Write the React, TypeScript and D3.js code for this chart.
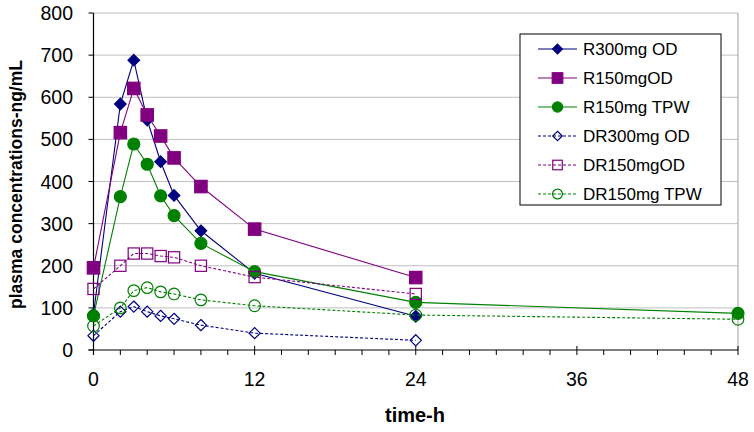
import React from "react";
import * as d3 from "d3";

const hours = [0, 2, 3, 4, 5, 6, 8, 12, 24];
const hoursLong = [0, 2, 3, 4, 5, 6, 8, 12, 24, 48];

const r300od = [85, 584, 688, 546, 447, 367, 283, 182, 80];
const r150od = [195, 516, 621, 558, 508, 456, 388, 287, 172];
const r150tpw = [81, 364, 489, 441, 366, 319, 253, 186, 113, 87];
const dr300od = [34, 91, 103, 91, 81, 74, 59, 40, 23];
const dr150od = [145, 200, 229, 229, 223, 220, 200, 173, 133];
const dr150tpw = [57, 100, 141, 148, 138, 133, 119, 105, 83, 73];

const seriesNames = ["R300mg OD", "R150mgOD", "R150mg TPW", "DR300mg OD", "DR150mgOD", "DR150mg TPW"];
const yTicks = [0, 100, 200, 300, 400, 500, 600, 700, 800];
const xTicks = [0, 12, 24, 36, 48];

type Marker = "diamond" | "square" | "circle";
interface Series {
  name: string;
  xs: number[];
  ys: number[];
  color: string;
  marker: Marker;
  filled: boolean;
  dashed: boolean;
}

const NAVY = "#000080";
const PURPLE = "#800080";
const GREEN = "#008000";

const series: Series[] = [
  { name: seriesNames[0], xs: hours, ys: r300od, color: NAVY, marker: "diamond", filled: true, dashed: false },
  { name: seriesNames[1], xs: hours, ys: r150od, color: PURPLE, marker: "square", filled: true, dashed: false },
  { name: seriesNames[2], xs: hoursLong, ys: r150tpw, color: GREEN, marker: "circle", filled: true, dashed: false },
  { name: seriesNames[3], xs: hours, ys: dr300od, color: NAVY, marker: "diamond", filled: false, dashed: true },
  { name: seriesNames[4], xs: hours, ys: dr150od, color: PURPLE, marker: "square", filled: false, dashed: true },
  { name: seriesNames[5], xs: hoursLong, ys: dr150tpw, color: GREEN, marker: "circle", filled: false, dashed: true },
];

function MarkerShape({ s, x, y, small }: { s: Series; x: number; y: number; small?: boolean }) {
  const k = small ? 0.85 : 1;
  const fill = s.filled ? s.color : "none";
  const sw = 1.2;
  if (s.marker === "diamond") {
    const h = (s.filled ? 5.8 : 5.6) * k;
    return (
      <path d={`M${x},${y - h}L${x + h},${y}L${x},${y + h}L${x - h},${y}Z`} fill={fill} stroke={s.color} strokeWidth={sw} />
    );
  }
  if (s.marker === "square") {
    const h = (s.filled ? 6.2 : 5.6) * k;
    return <rect x={x - h} y={y - h} width={2 * h} height={2 * h} fill={fill} stroke={s.color} strokeWidth={sw} />;
  }
  const r = (s.filled ? 6 : 5.8) * k;
  return <circle cx={x} cy={y} r={r} fill={fill} stroke={s.color} strokeWidth={sw} />;
}

export default function App() {
  const W = 754;
  const H = 432;
  const left = 93.5;
  const right = 738;
  const top = 13;
  const bottom = 350;

  const x = d3.scaleLinear().domain([0, 48]).range([left, right]);
  const y = d3.scaleLinear().domain([0, 800]).range([bottom, top]);

  const minorX = d3.range(0, 49, 2);
  const font = "Liberation Sans, Arial, sans-serif";

  const legendX = 520;
  const legendY = 34;
  const legendW = 201;
  const legendH = 171;
  const rowH = 29;

  return (
    <svg width={W} height={H} style={{ position: "absolute", left: 0, top: 0, background: "#fff" }} fontFamily={font}>
      <rect x={0} y={0} width={W} height={H} fill="#fff" />
      {/* gridlines */}
      {yTicks.slice(1).map((t) => (
        <line key={t} x1={left} x2={right} y1={y(t)} y2={y(t)} stroke="#c0c0c0" strokeWidth={1} />
      ))}
      {/* right border */}
      <line x1={right} x2={right} y1={top} y2={bottom} stroke="#a0a0a0" strokeWidth={1} />
      {/* axes */}
      <line x1={left} x2={left} y1={top} y2={bottom + 5} stroke="#000" strokeWidth={1.2} />
      <line x1={left - 5} x2={right} y1={bottom} y2={bottom} stroke="#000" strokeWidth={1.2} />
      {yTicks.map((t) => (
        <g key={t}>
          <line x1={left - 5} x2={left} y1={y(t)} y2={y(t)} stroke="#000" strokeWidth={1} />
          <text x={73} y={y(t)} dy="0.36em" textAnchor="end" fontSize={19.5} fill="#000">
            {t}
          </text>
        </g>
      ))}
      {minorX.map((t) => {
        const major = t % 12 === 0;
        return (
          <line
            key={t}
            x1={x(t)}
            x2={x(t)}
            y1={major ? bottom - 4 : bottom}
            y2={bottom + 5}
            stroke="#000"
            strokeWidth={1}
          />
        );
      })}
      {xTicks.map((t) => (
        <text key={t} x={x(t)} y={386} textAnchor="middle" fontSize={19.5} fill="#000">
          {t}
        </text>
      ))}
      <text x={415} y={422} textAnchor="middle" fontSize={20} fontWeight="bold" fill="#000">
        time-h
      </text>
      <text
        transform={`translate(22,${(top + bottom) / 2 + 3}) rotate(-90)`}
        textAnchor="middle"
        fontSize={17.5}
        fontWeight="bold"
        fill="#000"
      >
        plasma concentrations-ng/mL
      </text>

      {/* series */}
      {series.map((s) => {
        const pts: [number, number][] = s.xs.map((h, i) => [x(h), y(s.ys[i])]);
        const line = d3.line()(pts) || "";
        return (
          <g key={s.name}>
            <path d={line} fill="none" stroke={s.color} strokeWidth={1.1} strokeDasharray={s.dashed ? "3,2" : undefined} />
            {pts.map((p, i) => (
              <MarkerShape key={i} s={s} x={p[0]} y={p[1]} />
            ))}
          </g>
        );
      })}

      {/* legend */}
      <rect x={legendX} y={legendY} width={legendW} height={legendH} fill="#fff" stroke="#000" strokeWidth={1} />
      {series.map((s, i) => {
        const cy = legendY + 15 + i * rowH;
        return (
          <g key={s.name}>
            <line
              x1={538}
              x2={577}
              y1={cy}
              y2={cy}
              stroke={s.color}
              strokeWidth={1.1}
              strokeDasharray={s.dashed ? "3,2" : undefined}
            />
            <MarkerShape s={s} x={557.5} y={cy} small />
            <text x={583} y={cy} dy="0.36em" fontSize={17} fill="#000">
              {s.name}
            </text>
          </g>
        );
      })}
    </svg>
  );
}
